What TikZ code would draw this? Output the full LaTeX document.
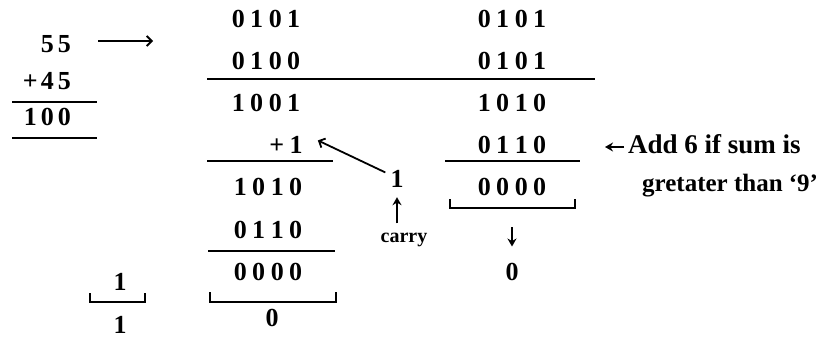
\documentclass[tikz,border=0pt]{standalone}
\usepackage{fontspec}
\setmainfont{Liberation Serif}
\usetikzlibrary{arrows.meta,calc}
\newcommand\dk{\kern5.5pt}
\newcommand\lk{\kern4pt}
\begin{document}
\begin{tikzpicture}[x=1pt,y=-1pt,
  num/.style={font=\bfseries\fontsize{26}{26}\selectfont, inner sep=0pt, anchor=base},
  lbl/.style={font=\bfseries\fontsize{26}{26}\selectfont, inner sep=0pt, anchor=base west},
  small/.style={font=\bfseries\fontsize{20}{20}\selectfont, inner sep=0pt, anchor=base},
  rule/.style={line width=1.8pt},
  arr/.style={line width=1.8pt, -{Straight Barb[length=5pt,width=10pt]}},
  tarr/.style={line width=1.8pt, -{Stealth[length=8pt,width=9pt]}}]
\useasboundingbox (0,0) rectangle (821,339);
% left sum
\node[num, anchor=base east] (a55) at (71,53) {5\lk5};
\node[num, anchor=base east] (a45) at (71,90) {+\kern3pt4\lk5};
\draw[rule] (12,102) -- (97,102);
\node[num, anchor=base east] (a100) at (71,126) {1\lk0\lk0};
\draw[rule] (12,138) -- (97,138);
\coordinate (ra) at (98,41);
\coordinate (rb) at (153,41);
\draw[arr] (ra) -- (rb);
% column 1
\node[num] (c1r1) at (266,28) {0\dk1\dk0\dk1};
\node[num] (c1r2) at (266,70) {0\dk1\dk0\dk0};
\draw[rule] (207,79) -- (595,79);
\node[num] (c1r3) at (266,112) {1\dk0\dk0\dk1};
\node[num] (c1r4) at (286,154) {+\dk1};
\draw[rule] (207,161) -- (333,161);
\node[num] (c1r5) at (268,196) {1\dk0\dk1\dk0};
\node[num] (c1r6) at (268,238) {0\dk1\dk1\dk0};
\draw[rule] (208,251) -- (335,251);
\node[num] (c1r7) at (268,280) {0\dk0\dk0\dk0};
\draw[rule] (210,292) -- (210,302) -- (336,302) -- (336,292);
\node[num] (c1r8) at (272,326) {0};
% carry
\node[num] (cone) at (397,187) {1};
\node[small] (carry) at (404,242) {carry};
\draw[tarr] ($(carry.north -| cone.south)+(0,-9)$) -- ($(cone.south)+(0,10)$);
\draw[arr] ($(cone.west)+(-5,-6)$) -- ($(c1r4.east)+(15,-5)$);
% column 2
\node[num] (c2r1) at (512,28) {0\dk1\dk0\dk1};
\node[num] (c2r2) at (512,70) {0\dk1\dk0\dk1};
\node[num] (c2r3) at (512,112) {1\dk0\dk1\dk0};
\node[num] (c2r4) at (512,154) {0\dk1\dk1\dk0};
\draw[rule] (445,161) -- (580,161);
\node[num] (c2r5) at (512,196) {0\dk0\dk0\dk0};
\draw[rule] (450,199) -- (450,208) -- (575,208) -- (575,199);
\coordinate (b2) at (512,208);
\node[num] (c2r7) at (512,280) {0};
\draw[tarr] ($(b2)+(0,19)$) -- ($(c2r7.north)+(0,-16)$);
% labels
\node[lbl, font=\bfseries\fontsize{27}{27}\selectfont] (add) at (628,154) {Add 6 if sum is};
\coordinate (addtip) at (605,147);
\draw[tarr] ($(add.base west)+(-4,-7)$) -- (addtip);
\node[lbl, font=\bfseries\fontsize{25}{25}\selectfont] (gt) at (642,192) {gretater than ‘9’};
% left bracket
\node[num] (l1) at (120,290) {1};
\draw[rule] (90,293) -- (90,302) -- (145,302) -- (145,293);
\node[num] (l2) at (120,333) {1};
\end{tikzpicture}
\end{document}
